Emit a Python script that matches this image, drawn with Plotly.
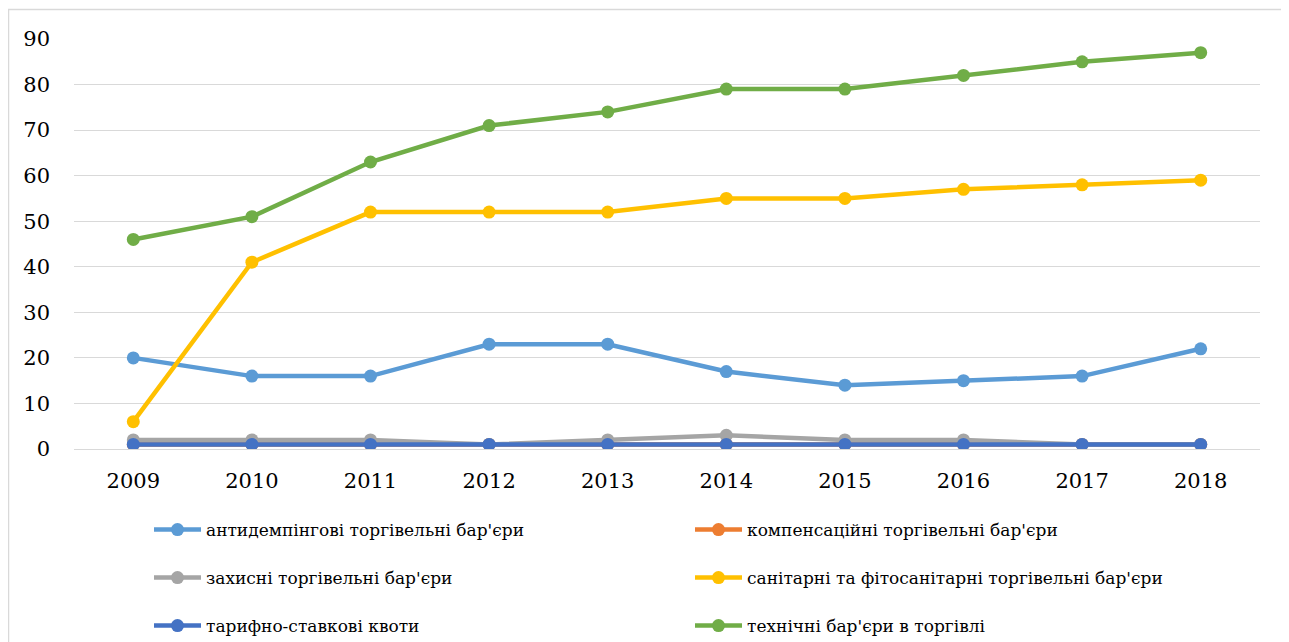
import plotly.graph_objects as go

years = ["2009", "2010", "2011", "2012", "2013", "2014", "2015", "2016", "2017", "2018"]

antidumping = [20, 16, 16, 23, 23, 17, 14, 15, 16, 22]
compensatory = [1, 1, 1, 1, 1, 1, 1, 1, 1, 1]
protective = [2, 2, 2, 1, 2, 3, 2, 2, 1, 1]
sanitary = [6, 41, 52, 52, 52, 55, 55, 57, 58, 59]
tariff_quotas = [1, 1, 1, 1, 1, 1, 1, 1, 1, 1]
technical = [46, 51, 63, 71, 74, 79, 79, 82, 85, 87]

names = [
    "антидемпінгові торгівельні бар'єри",
    "компенсаційні торгівельні бар'єри",
    "захисні торгівельні бар'єри",
    "санітарні та фітосанітарні торгівельні бар'єри",
    "тарифно-ставкові квоти",
    "технічні бар'єри в торгівлі",
]
series = [antidumping, compensatory, protective, sanitary, tariff_quotas, technical]
colors = ["#5B9BD5", "#ED7D31", "#A5A5A5", "#FFC000", "#4472C4", "#70AD47"]
legends = ["legend", "legend", "legend2", "legend2", "legend3", "legend3"]

FONT = "DejaVu Serif"

fig = go.Figure()
for name, vals, col, lg in zip(names, series, colors, legends):
    fig.add_trace(go.Scatter(
        x=years, y=vals, name=name, mode="lines+markers",
        line=dict(color=col, width=4.5),
        marker=dict(color=col, size=13),
        legend=lg,
    ))

# the page body adds an 8 px offset; positions below are in figure pixels
W, H = 1281, 634
ml, mr, mt, mb = 66, 29, 31, 193
pw = W - ml - mr
ph = H - mt - mb

def py(ypix):
    return (H - mb - ypix) / ph

def px(xpix):
    return (xpix - ml) / pw

leg_common = dict(
    orientation="h", xanchor="left", yanchor="middle",
    entrywidth=479, entrywidthmode="pixels", itemwidth=47,
    font=dict(family=FONT, size=17, color="#000000"),
    bgcolor="rgba(0,0,0,0)", itemclick=False, itemdoubleclick=False,
)

fig.update_layout(
    width=W, height=H,
    margin=dict(l=ml, r=mr, t=mt, b=mb, autoexpand=False),
    paper_bgcolor="white", plot_bgcolor="white",
    font=dict(family=FONT, size=21, color="#000000"),
    showlegend=True,
    legend=dict(x=px(141), y=py(522), **leg_common),
    legend2=dict(x=px(141), y=py(570), **leg_common),
    legend3=dict(x=px(141), y=py(618), **leg_common),
    xaxis=dict(
        type="category", range=[-0.5, 9.5],
        showgrid=False, showline=True, linecolor="#D9D9D9", linewidth=1,
        ticks="", tickfont=dict(family=FONT, size=21, color="#000000"),
        ticklabelstandoff=13, fixedrange=True,
    ),
    yaxis=dict(
        range=[0, 90], dtick=10, tick0=0,
        showgrid=True, gridcolor="#D9D9D9", gridwidth=1,
        zeroline=False, showline=False, ticks="",
        tickfont=dict(family=FONT, size=21, color="#000000"),
        ticklabelstandoff=23, fixedrange=True,
    ),
    shapes=[dict(
        type="rect", xref="paper", yref="paper",
        x0=px(0.5), x1=px(1275), y0=py(660), y1=py(1.5),
        line=dict(color="#D9D9D9", width=1.5), fillcolor="rgba(0,0,0,0)",
        layer="below",
    )],
)

fig.write_html("out.html")
